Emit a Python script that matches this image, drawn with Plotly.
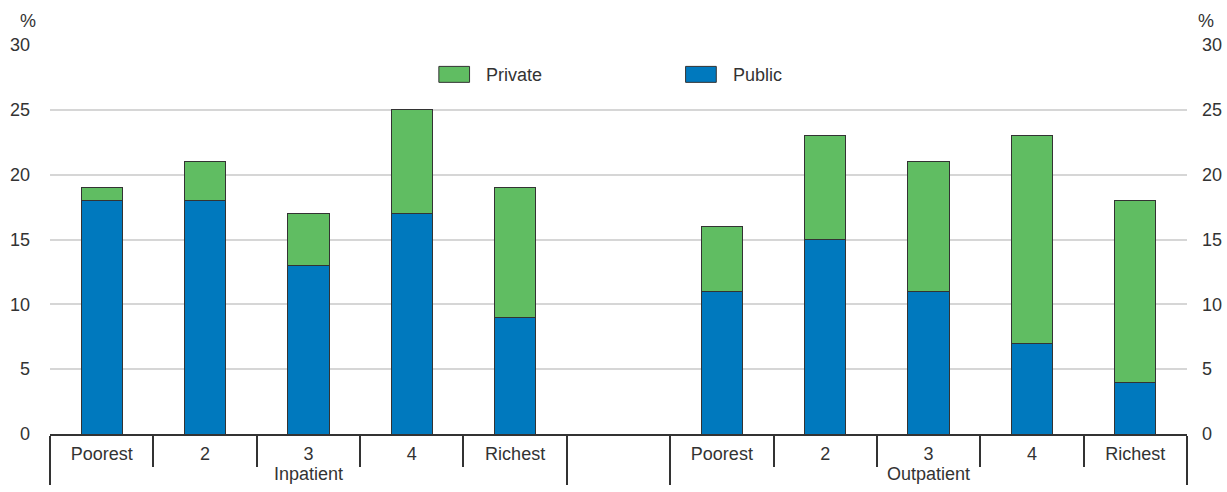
import plotly.graph_objects as go

quintiles = ["Poorest", "2", "3", "4", "Richest"]
groups = ["Inpatient", "Outpatient"]

public_inpatient = [18, 18, 13, 17, 9]
private_inpatient = [1, 3, 4, 8, 10]
public_outpatient = [11, 15, 11, 7, 4]
private_outpatient = [5, 8, 10, 16, 14]

y_ticks = [0, 5, 10, 15, 20, 25, 30]

BLUE = "#0079be"
GREEN = "#60bd62"
EDGE = "#333333"
FONT = "Liberation Sans Narrow, Arial Narrow, Liberation Sans, sans-serif"

# empty slot between the two groups
outer = [groups[0]] * len(quintiles) + [" "] + [groups[1]] * len(quintiles)
inner = quintiles + [" "] + quintiles
public = public_inpatient + [None] + public_outpatient
private = private_inpatient + [None] + private_outpatient

fig = go.Figure()
fig.add_trace(go.Bar(x=[outer, inner], y=public, name="Public", showlegend=False,
                     marker=dict(color=BLUE, line=dict(color=EDGE, width=1))))
fig.add_trace(go.Bar(x=[outer, inner], y=private, name="Private", showlegend=False,
                     marker=dict(color=GREEN, line=dict(color=EDGE, width=1))))
# invisible trace to get the right hand axis
fig.add_trace(go.Scatter(x=[outer, inner], y=public, yaxis="y2", mode="none",
                         showlegend=False, hoverinfo="skip"))

# legend drawn by hand to get the wide rectangular keys
legend_items = [("Private", GREEN, 0.342), ("Public", BLUE, 0.559)]
shapes = []
annotations = []
for name, color, x0 in legend_items:
    shapes.append(dict(type="rect", xref="paper", yref="paper",
                       x0=x0, x1=x0 + 0.027, y0=0.904, y1=0.945,
                       fillcolor=color, line=dict(color=EDGE, width=1)))
    annotations.append(dict(text=name, xref="paper", yref="paper", x=x0 + 0.040,
                            y=0.924, xanchor="left", yanchor="middle", showarrow=False))

annotations += [
    dict(text="%", xref="paper", yref="paper", x=0, xshift=-12, y=1.0, yshift=12,
         xanchor="right", yanchor="bottom", showarrow=False),
    dict(text="%", xref="paper", yref="paper", x=1.0, xshift=9, y=1.0, yshift=12,
         xanchor="left", yanchor="bottom", showarrow=False),
]

fig.update_layout(
    barmode="stack",
    bargap=0.6,
    width=1227, height=492,
    margin=dict(l=50, r=40, t=45, b=58, autoexpand=False),
    plot_bgcolor="white", paper_bgcolor="white",
    font=dict(family=FONT, size=18, color="#333333"),
    shapes=shapes,
    annotations=annotations,
    xaxis=dict(type="multicategory", tickson="boundaries", ticks="outside",
               ticklen=31, tickwidth=2, tickcolor=EDGE,
               showline=True, linecolor=EDGE, linewidth=2,
               showdividers=True, dividercolor=EDGE, dividerwidth=2,
               ticklabelstandoff=2, showgrid=False, automargin=False),
    yaxis=dict(range=[0, 30], tickvals=y_ticks, showgrid=True, gridcolor="#d6d6d6",
               gridwidth=2, zeroline=False, showline=False, ticks="",
               ticklabelstandoff=19, automargin=False),
    yaxis2=dict(range=[0, 30], tickvals=y_ticks, overlaying="y", side="right",
                showgrid=False, zeroline=False, showline=False, ticks="",
                ticklabelstandoff=14, automargin=False),
)

# drop the default body margin so the figure fills the window exactly
fig.write_html("out.html", config={"displayModeBar": False},
               post_script="document.body.style.margin='0';"
                           "document.body.style.overflow='hidden';")
